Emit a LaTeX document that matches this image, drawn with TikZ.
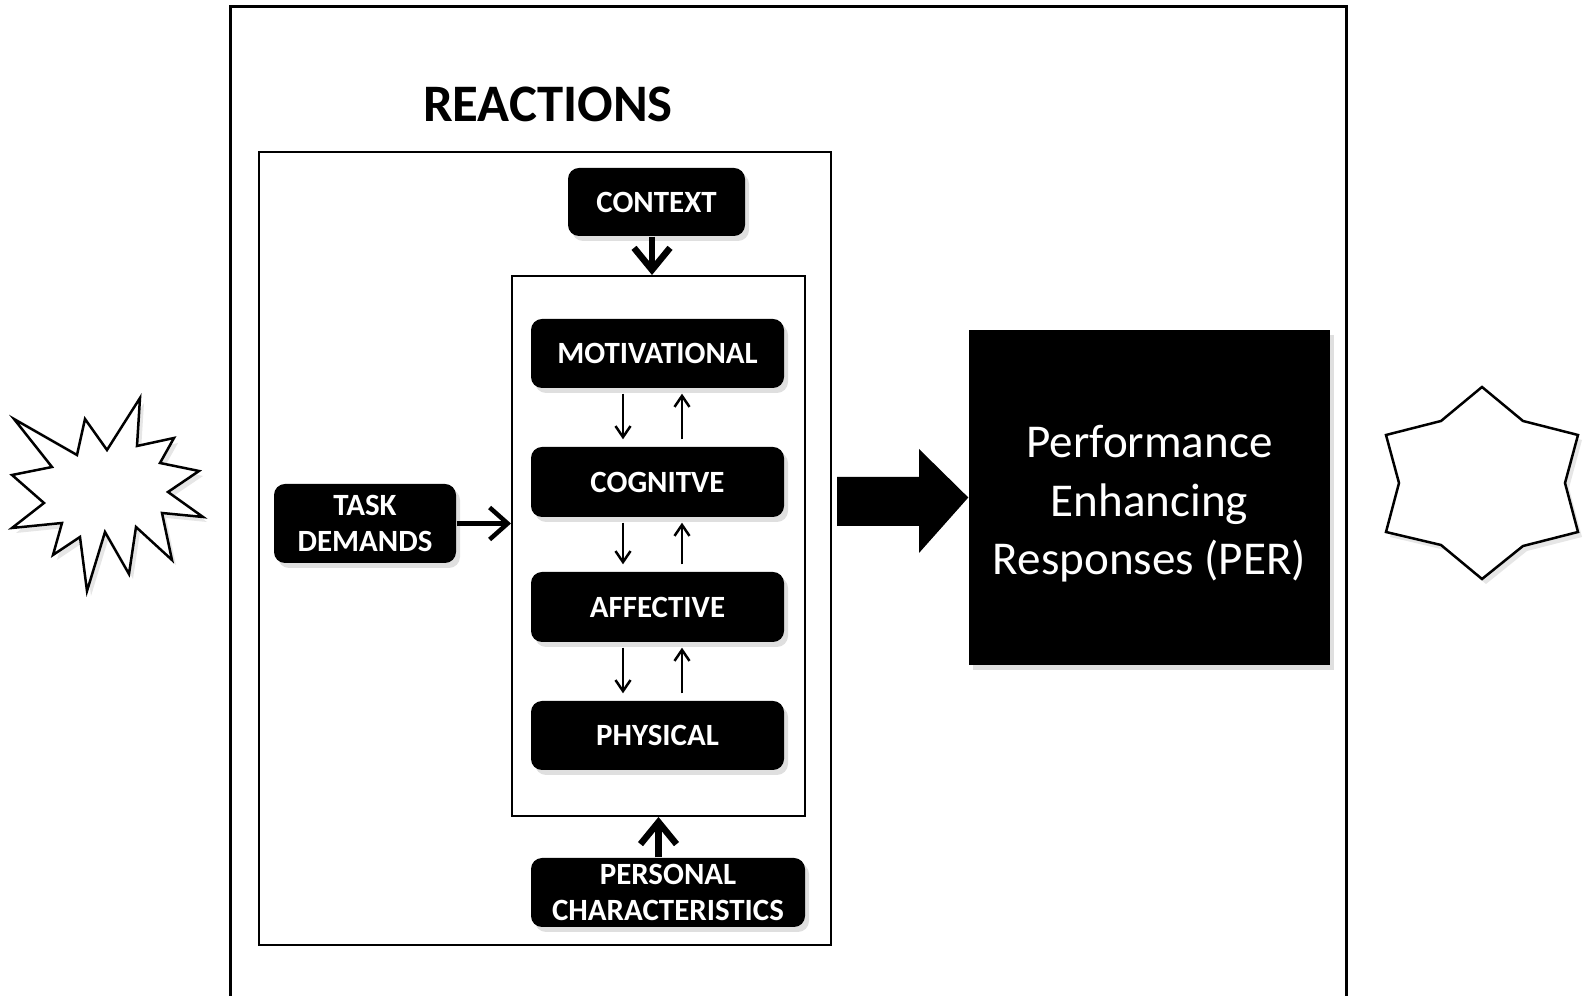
\documentclass[tikz,border=0pt]{standalone}
\usepackage{fontspec}
\setmainfont{Carlito}
\usetikzlibrary{arrows.meta}
\usetikzlibrary{shadows}

\begin{document}
\begin{tikzpicture}[x=0.1mm,y=-0.1mm,
  blackbox/.style={rectangle,rounded corners=1.1mm,fill=black,text=white,align=center,inner sep=0pt,
    font=\fontsize{8.8}{10}\selectfont\bfseries,
    drop shadow={shadow xshift=0.4mm,shadow yshift=-0.5mm,opacity=0.25}},
  framebox/.style={draw=black,line width=0.2mm,inner sep=0pt},
  bigarr/.style={line width=0.65mm,-{Straight Barb[length=2.2mm,width=3.6mm]}},
  smallarr/.style={line width=0.25mm,-{Straight Barb[length=1.1mm,width=1.5mm]}}]
  \useasboundingbox (0,0) rectangle (1583,996);
  %% outer frame, open at the bottom
  \draw[line width=0.3mm] (230,996) -- (230,7) -- (1346,7) -- (1346,996);
  \node[font=\fontsize{15}{18}\selectfont\bfseries] (title) at (548,104) {REACTIONS};
  \node[framebox,minimum width=57.2mm,minimum height=79.3mm] (reactions) at (545,548.5) {};
  \node[framebox,minimum width=29.3mm,minimum height=54mm] (mid) at (658.5,546) {};
  %% boxes
  \node[blackbox,minimum width=17.7mm,minimum height=6.8mm] (context) at (656.5,202) {CONTEXT};
  \node[blackbox,minimum width=25.3mm,minimum height=6.9mm] (mot) at (657.5,353.5) {MOTIVATIONAL};
  \node[blackbox,minimum width=25.3mm,minimum height=7mm] (cog) at (657.5,482) {COGNITVE};
  \node[blackbox,minimum width=25.3mm,minimum height=7mm] (aff) at (657.5,607) {AFFECTIVE};
  \node[blackbox,minimum width=25.3mm,minimum height=6.9mm] (phys) at (657.5,735.5) {PHYSICAL};
  \node[blackbox,minimum width=18.2mm,minimum height=7.9mm] (task) at (365,523.5) {TASK\\DEMANDS};
  \node[blackbox,minimum width=27.4mm,minimum height=6.9mm] (pers) at (668,892.5) {PERSONAL\\CHARACTERISTICS};
  \node[rectangle,fill=black,text=white,align=center,minimum width=36.1mm,minimum height=33.5mm,
    font=\fontsize{13.4}{16.6}\selectfont,
    drop shadow={shadow xshift=0.4mm,shadow yshift=-0.5mm,opacity=0.25}] (per) at (1149.5,497.5)
    {\rule{0pt}{1.2pt}\\[-5pt]Performance\\Enhancing\\Responses (PER)};
  %% connectors
  \draw[bigarr] ([xshift=-0.45mm]context.south) -- ([xshift=-0.45mm]context.south |- mid.north);
  \draw[bigarr] (mid.south |- pers.north) -- (mid.south);
  \draw[line width=0.45mm,-{Straight Barb[length=1.8mm,width=3.2mm]}] (task.east) -- (mid.west |- task.east);
  \foreach \a/\b in {mot/cog, cog/aff, aff/phys}
  {
    \draw[smallarr,shorten <=0.5mm,shorten >=0.7mm] ([xshift=-3.45mm]\a.south) -- ([xshift=-3.45mm]\b.north);
    \draw[smallarr,shorten <=0.7mm,shorten >=0.5mm] ([xshift=2.45mm]\b.north) -- ([xshift=2.45mm]\a.south);
  }
  %% block arrow into PER
  \fill (837,477) -- (919,477) -- (919,449) -- (per.west) -- (919,553) -- (919,526) -- (837,526) -- cycle;
  %% explosion
  \draw[line width=0.25mm,fill=white,drop shadow={shadow xshift=0.4mm,shadow yshift=-0.5mm,opacity=0.2}]
    (14,419) -- (77,455) -- (85,419) -- (107,450) -- (140,398) -- (137,446) -- (174,438) -- (160,463)
    -- (199,471) -- (168,492) -- (203,517) -- (162,513) -- (172,560) -- (136,527) -- (129,574)
    -- (105,532) -- (87,591) -- (80,537) -- (53,555) -- (62,523) -- (12,528) -- (44,503) -- (12,475)
    -- (52,467) -- cycle;
  %% six-point star
  \draw[line width=0.25mm,fill=white,drop shadow={shadow xshift=0.4mm,shadow yshift=-0.5mm,opacity=0.2}]
    (1482,387) -- (1523,421) -- (1578,435) -- (1565,483) -- (1578,532) -- (1523,546) -- (1482,579)
    -- (1441,545) -- (1386,532) -- (1399,483) -- (1386,435) -- (1441,421) -- cycle;
\end{tikzpicture}
\end{document}
